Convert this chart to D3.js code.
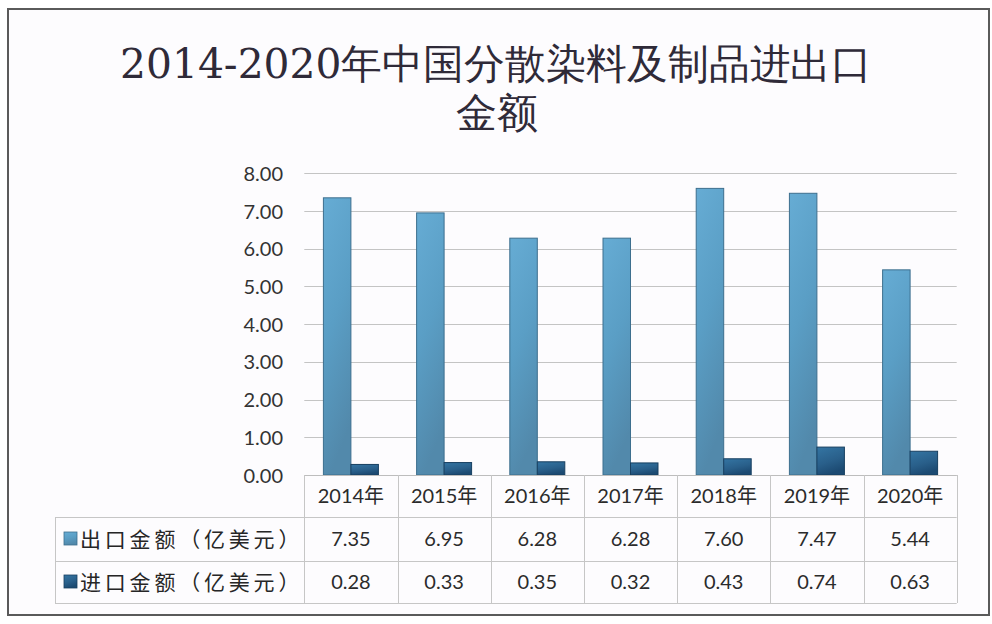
<!DOCTYPE html>
<html>
<head>
<meta charset="utf-8">
<script src="https://cdn.jsdelivr.net/npm/d3@7"></script>
<style>
  html, body { margin: 0; padding: 0; background: #ffffff; }
  svg { display: block; }
</style>
</head>
<body>
<svg id="chart" width="992" height="624"></svg>
<script>
const titleLines = ["2014-2020年中国分散染料及制品进出口", "金额"];
const categories = ["2014年", "2015年", "2016年", "2017年", "2018年", "2019年", "2020年"];
const seriesNames = ["出口金额（亿美元）", "进口金额（亿美元）"];
const exportValues = [7.35, 6.95, 6.28, 6.28, 7.60, 7.47, 5.44];
const importValues = [0.28, 0.33, 0.35, 0.32, 0.43, 0.74, 0.63];
const yTicks = [0, 1, 2, 3, 4, 5, 6, 7, 8];

const series = [
  { name: seriesNames[0], values: exportValues, grad: "gExp", stroke: "#3d6f8e" },
  { name: seriesNames[1], values: importValues, grad: "gImp", stroke: "#173f60" }
];

const svg = d3.select("#chart");
const W = 992, H = 624;

// gradients
const defs = svg.append("defs");
function grad(id, stops, x2, y2) {
  const g = defs.append("linearGradient").attr("id", id)
    .attr("x1", 0).attr("y1", 0).attr("x2", x2).attr("y2", y2);
  stops.forEach(s => g.append("stop").attr("offset", s[0]).attr("stop-color", s[1]));
}
grad("gExp", [[0, "#66acd4"], [0.5, "#5a9ec5"], [1, "#5289ab"]], 0.25, 1);
grad("gImp", [[0, "#3475a3"], [0.6, "#295f8a"], [1, "#1c4a72"]], 0.35, 1);

// background + outer border
svg.append("rect").attr("x", 0).attr("y", 0).attr("width", W).attr("height", H).attr("fill", "#ffffff");
svg.append("rect").attr("x", 8).attr("y", 9).attr("width", 981).attr("height", 606)
  .attr("fill", "#fdfcfe").attr("stroke", "#5a5a5a").attr("stroke-width", 2);

// title
const title = svg.append("text")
  .attr("text-anchor", "middle")
  .attr("fill", "#2f2a38")
  .style("font-family", "'DejaVu Serif', 'Liberation Serif', serif")
  .style("font-size", "41px");
title.append("tspan").attr("x", 496).attr("y", 78)
  .attr("textLength", 752).attr("lengthAdjust", "spacingAndGlyphs")
  .text(titleLines[0]);
title.append("tspan").attr("x", 497).attr("y", 127).text(titleLines[1]);

// scales
const x = d3.scaleBand().domain(categories).range([304.3, 956.7]).paddingInner(0).paddingOuter(0);
const y = d3.scaleLinear().domain([0, 8]).range([475, 173.3]);

const barW = x.bandwidth() * 0.295;

// gridlines
svg.append("g").selectAll("line").data(yTicks).join("line")
  .attr("x1", 304.3).attr("x2", 956.7)
  .attr("y1", d => Math.round(y(d)) + 0.5).attr("y2", d => Math.round(y(d)) + 0.5)
  .attr("stroke", "#c4c4c4").attr("stroke-width", 1);

// y axis labels
const yAxis = d3.axisLeft(y).tickValues(yTicks).tickFormat(d3.format(".2f")).tickSize(0).tickPadding(0);
const yg = svg.append("g").attr("transform", "translate(283,0)").call(yAxis);
yg.select(".domain").remove();
yg.selectAll("text")
  .attr("fill", "#333333")
  .attr("dy", "0.35em")
  .style("font-family", "Lato, 'Open Sans', 'Noto Sans', sans-serif")
  .style("font-size", "20px");

// bars
series.forEach((s, si) => {
  svg.append("g").selectAll("rect").data(categories).join("rect")
    .attr("x", d => x(d) + x.bandwidth() / 2 - barW + si * barW)
    .attr("y", (d, i) => y(s.values[i]))
    .attr("width", barW)
    .attr("height", (d, i) => y(0) - y(s.values[i]))
    .attr("fill", `url(#${s.grad})`)
    .attr("stroke", s.stroke).attr("stroke-width", 1);
});

// data table
const tableLeft = 55, colLeft = 304.3, tableRight = 956.7;
const rowY = [475, 517, 561, 603];
const tg = svg.append("g").attr("stroke", "#c6c6c6").attr("stroke-width", 1);
[517, 561, 603].forEach(yy => {
  tg.append("line").attr("x1", tableLeft).attr("x2", tableRight).attr("y1", yy + 0.5).attr("y2", yy + 0.5);
});
tg.append("line").attr("x1", colLeft).attr("x2", tableRight).attr("y1", 475.5).attr("y2", 475.5).attr("stroke", "#bdbdbd");
tg.append("line").attr("x1", tableLeft + 0.5).attr("x2", tableLeft + 0.5).attr("y1", 517).attr("y2", 603);
const bounds = categories.map(c => x(c)).concat([tableRight]);
bounds.forEach(bx => {
  tg.append("line").attr("x1", Math.round(bx) + 0.5).attr("x2", Math.round(bx) + 0.5).attr("y1", 475).attr("y2", 603);
});

const tableFont = "Lato, 'Open Sans', 'Noto Sans', 'Noto Sans CJK SC', sans-serif";
svg.append("g").selectAll("text").data(categories).join("text")
  .attr("x", d => x(d) + x.bandwidth() / 2)
  .attr("y", (rowY[0] + rowY[1]) / 2)
  .attr("dy", "0.36em")
  .attr("text-anchor", "middle")
  .attr("fill", "#2b2b2b")
  .style("font-family", tableFont)
  .style("font-size", "20px")
  .text(d => d);

series.forEach((s, si) => {
  const cy = (rowY[si + 1] + rowY[si + 2]) / 2;
  svg.append("g").selectAll("text").data(s.values).join("text")
    .attr("x", (d, i) => x(categories[i]) + x.bandwidth() / 2)
    .attr("y", cy)
    .attr("dy", "0.36em")
    .attr("text-anchor", "middle")
    .attr("fill", "#2b2b2b")
    .style("font-family", tableFont)
    .style("font-size", "20px")
    .text(d => d3.format(".2f")(d));
  svg.append("rect")
    .attr("x", 64).attr("y", cy - 7).attr("width", 13).attr("height", 13)
    .attr("fill", `url(#${s.grad})`).attr("stroke", s.stroke).attr("stroke-width", 0.8);
  svg.append("text")
    .attr("x", 80).attr("y", cy).attr("dy", "0.36em")
    .attr("fill", "#262626")
    .style("font-family", "'Noto Sans CJK SC', sans-serif")
    .style("font-size", "21px")
    .style("letter-spacing", "3.8px")
    .text(s.name);
});
</script>
</body>
</html>
